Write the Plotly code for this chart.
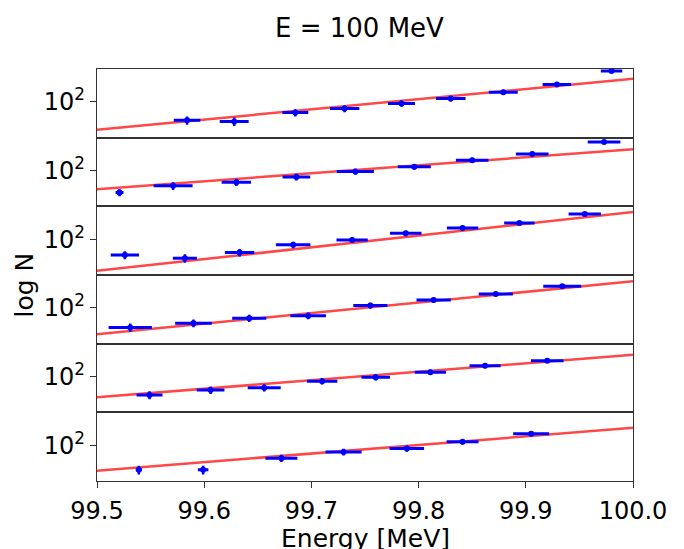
import plotly.graph_objects as go

# ---- data ----
E1 = [99.584, 99.628, 99.685, 99.731, 99.784, 99.830, 99.879, 99.929, 99.980]
W1 = [0.0124, 0.0135, 0.0121, 0.0137, 0.0126, 0.0138, 0.0135, 0.0133, 0.0100]
N1 = [54, 52, 70, 80, 95, 112, 139, 180, 282]
S1 = [7.3, 7.2, 8.4, 8.9, 9.7, 10.6, 11.8, 13.4, 16.8]

E2 = [99.521, 99.571, 99.630, 99.686, 99.741, 99.796, 99.850, 99.906, 99.973]
W2 = [0.0037, 0.0182, 0.0137, 0.0129, 0.0173, 0.0154, 0.0152, 0.0152, 0.0152]
N2 = [48, 60, 68, 81, 97, 114, 142, 175, 262]
S2 = [5.5, 7.7, 8.2, 9.0, 9.8, 10.7, 11.9, 13.2, 16.2]

E3 = [99.526, 99.582, 99.633, 99.683, 99.738, 99.788, 99.841, 99.894, 99.955]
W3 = [0.0132, 0.0112, 0.0137, 0.0161, 0.0146, 0.0147, 0.0146, 0.0142, 0.0151]
N3 = [59, 53, 64, 83, 98, 122, 146, 172, 233]
S3 = [7.7, 7.3, 8.0, 9.1, 9.9, 11.0, 12.1, 13.1, 15.3]

E4 = [99.531, 99.590, 99.642, 99.697, 99.755, 99.814, 99.872, 99.934]
W4 = [0.0202, 0.0171, 0.0159, 0.0166, 0.0159, 0.0160, 0.0159, 0.0177]
N4 = [52, 60, 71, 77, 109, 131, 160, 207]
S4 = [7.2, 7.7, 8.4, 8.8, 10.4, 11.4, 12.6, 14.4]

E5 = [99.549, 99.606, 99.656, 99.710, 99.760, 99.811, 99.862, 99.920]
W5 = [0.0121, 0.0129, 0.0154, 0.0142, 0.0133, 0.0146, 0.0145, 0.0152]
N5 = [54, 64, 69, 86, 98, 116, 144, 171]
S5 = [7.3, 8.0, 8.3, 9.3, 9.9, 10.8, 12.0, 13.1]

E6 = [99.539, 99.599, 99.672, 99.730, 99.789, 99.841, 99.905]
W6 = [0.0028, 0.0049, 0.0149, 0.0168, 0.0161, 0.0149, 0.0168]
N6 = [44, 44, 65, 80, 90, 113, 147]
S6 = [6.5, 6.5, 8.0, 9.0, 9.5, 10.6, 12.1]

# fitted exponential line: N at E = 99.5 and E = 100.0 for each panel
FIT_E = [99.5, 100.0]
FIT1 = [39.3, 217.8]
FIT2 = [53.5, 205.1]
FIT3 = [34.7, 249.5]
FIT4 = [41.3, 244.9]
FIT5 = [50.1, 208.4]
FIT6 = [42.7, 179.5]

panels = [
    (E1, W1, N1, S1, FIT1),
    (E2, W2, N2, S2, FIT2),
    (E3, W3, N3, S3, FIT3),
    (E4, W4, N4, S4, FIT4),
    (E5, W5, N5, S5, FIT5),
    (E6, W6, N6, S6, FIT6),
]

YTICKS = [100]
YTICKTEXT = ["10<sup>2</sup>"]
XTICKS = [99.5, 99.6, 99.7, 99.8, 99.9, 100.0]
XTICKTEXT = ["99.5", "99.6", "99.7", "99.8", "99.9", "100.0"]

FONT = "DejaVu Sans"
frame = "#333333"
TICKSIZE = 24
LABELSIZE = 25

fig = go.Figure()
n = len(panels)
layout = {}
for i, (E, W, N, S, FIT) in enumerate(panels):
    k = i + 1
    xa = "x" if k == 1 else f"x{k}"
    ya = "y" if k == 1 else f"y{k}"
    fig.add_trace(go.Scatter(
        x=FIT_E, y=FIT, xaxis=xa, yaxis=ya, mode="lines",
        line=dict(color="rgba(255,0,0,0.72)", width=2.5),
        showlegend=False, hoverinfo="skip"))
    fig.add_trace(go.Scatter(
        x=E, y=N, xaxis=xa, yaxis=ya, mode="markers",
        marker=dict(color="blue", size=6, symbol="circle"),
        error_x=dict(type="data", array=W, color="blue", thickness=3, width=0),
        error_y=dict(type="data", array=S, color="blue", thickness=2.5, width=0),
        showlegend=False))
    top = 1 - i / n
    bot = 1 - (i + 1) / n
    last = (k == n)
    xkey = "xaxis" if k == 1 else f"xaxis{k}"
    ykey = "yaxis" if k == 1 else f"yaxis{k}"
    layout[xkey] = dict(
        domain=[0, 1], anchor=ya, range=[99.5, 100.0],
        showline=True, mirror=True, linecolor=frame, linewidth=1.3,
        showgrid=False, zeroline=False,
        tickvals=XTICKS, ticktext=XTICKTEXT,
        showticklabels=last, ticks="outside" if last else "",
        ticklen=6, tickwidth=1.2, tickcolor=frame,
        ticklabelstandoff=2,
        tickfont=dict(family=FONT, size=TICKSIZE, color="black"),
    )
    if k != 1:
        layout[xkey]["matches"] = "x"
    layout[ykey] = dict(
        domain=[bot, top], anchor=xa, type="log", range=[1.48, 2.48],
        showline=True, mirror=True, linecolor=frame, linewidth=1.3,
        showgrid=False, zeroline=False,
        tickvals=YTICKS, ticktext=YTICKTEXT,
        ticks="outside", ticklen=6, tickwidth=1.2, tickcolor=frame,
        tickfont=dict(family=FONT, size=TICKSIZE, color="black"),
    )

fig.update_layout(**layout)
fig.update_layout(
    width=684, height=549,
    margin=dict(l=97, r=51, t=69, b=68),
    paper_bgcolor="white", plot_bgcolor="white",
    font=dict(family=FONT, color="black"),
    annotations=[
        dict(text="E = 100 MeV", xref="paper", yref="paper", x=0.49, y=1.1,
             showarrow=False, font=dict(family=FONT, size=26, color="black"),
             xanchor="center", yanchor="middle"),
        dict(text="Energy [MeV]", xref="paper", yref="paper", x=0.5, y=-0.14,
             showarrow=False, font=dict(family=FONT, size=LABELSIZE, color="black"),
             xanchor="center", yanchor="middle"),
        dict(text="log N", xref="paper", yref="paper", x=-0.135, y=0.476,
             showarrow=False, textangle=-90,
             font=dict(family=FONT, size=LABELSIZE, color="black"),
             xanchor="center", yanchor="middle"),
    ],
)

fig.write_html("out.html")
